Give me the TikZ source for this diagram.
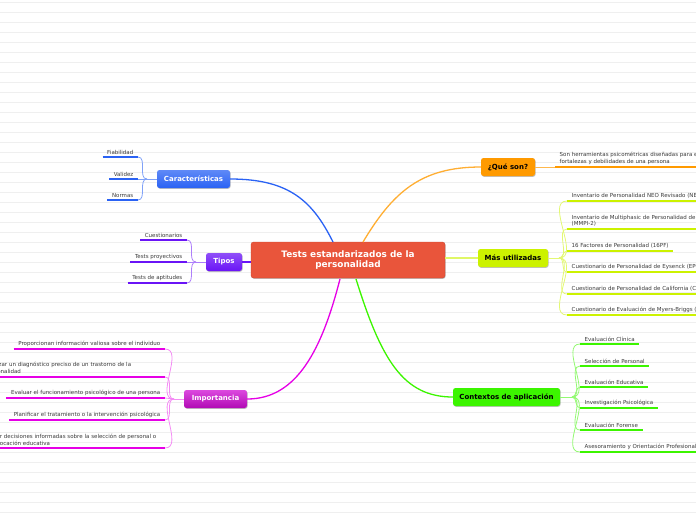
\documentclass[tikz,border=0pt]{standalone}
\usepackage{fontspec}
\setmainfont{DejaVu Sans}
\usetikzlibrary{shadows}
\definecolor{rootred}{HTML}{E9553B}
\definecolor{carablue}{HTML}{2A62F4}
\definecolor{tipviolet}{HTML}{6A14F6}
\definecolor{impmag}{HTML}{D00CD4}
\definecolor{impline}{HTML}{E600E6}
\definecolor{queorange}{HTML}{FF9A00}
\definecolor{maslime}{HTML}{CCF200}
\definecolor{ctxgreen}{HTML}{3CF500}
\definecolor{leafgray}{HTML}{3A3A3A}
\definecolor{ruleline}{HTML}{EFEFEF}

\begin{document}
\begin{tikzpicture}[x=1pt, y=-1pt,
  topic/.style={rounded corners=2.5pt, minimum height=18pt, inner xsep=0pt, align=center,
    font=\fontsize{7}{8}\selectfont\bfseries,
    drop shadow={shadow xshift=0.6pt, shadow yshift=-0.8pt, opacity=0.25, fill=black}},
  leaf/.style={inner xsep=4.5pt, inner ysep=2.2pt, align=left, text=leafgray,
    font=\fontsize{5.5}{6.6}\selectfont},
  wideleaf/.style={leaf, text width=175pt},
  uline/.style={line width=2.6pt},
  conn/.style={line width=1.3pt},
  twig/.style={line width=0.8pt}
]
\useasboundingbox (0,0) rectangle (696,520);
\foreach \y in {2,12,...,512} \draw[ruleline, line width=0.6pt] (0,\y) -- (696,\y);

% central topic
\node[topic, minimum width=194pt, minimum height=36pt, fill=rootred, draw=rootred!85!black, line width=0.3pt,
  text=white, font=\fontsize{8.9}{10.5}\selectfont\bfseries] (root) at (348,260) {Tests estandarizados de la\\personalidad};

% main topics
\node[topic, minimum width=73pt, top color=carablue!75!white, bottom color=carablue, text=white] (cara) at (193.5,179) {Características};
\node[topic, minimum width=36pt, top color=tipviolet!75!white, bottom color=tipviolet, text=white] (tipos) at (224,262) {Tipos};
\node[topic, minimum width=63pt, top color=impmag!75!white, bottom color=impmag!85!black, text=white] (impo) at (215.5,399) {Importancia};
\node[topic, minimum width=54pt, fill=queorange, text=black] (queson) at (508,167) {¿Qué son?};
\node[topic, minimum width=70pt, fill=maslime, text=black] (masut) at (513,258) {Más utilizadas};
\node[topic, minimum width=107pt, fill=ctxgreen, text=black] (contx) at (506.5,397) {Contextos de aplicación};

% connectors from the centre
\draw[conn, carablue] (333,242) .. controls +(-20,-40) and +(60,0) .. (cara.east);
\draw[conn, tipviolet] (root.west |- tipos) -- (tipos.east);
\draw[conn, impline] (340,279) .. controls +(-18,70) and +(50,0) .. (impo.east);
\draw[conn, queorange!80!white] (363,242) .. controls +(30,-50) and +(-60,0) .. (queson.west);
\draw[conn, maslime!60!white] (root.east |- masut) -- (masut.west);
\draw[conn, ctxgreen] (356,279) .. controls +(25,80) and +(-50,0) .. (contx.west);

% Caracteristicas
\coordinate (cara-h) at (147,179);
\node[leaf, anchor=south east] (fia) at (138,157) {Fiabilidad};
\node[leaf, anchor=south east] (val) at (138,179) {Validez};
\node[leaf, anchor=south east] (nor) at (138,200) {Normas};
\draw[twig, carablue!60!white] (cara.west) -- (cara-h);
\foreach \n in {fia,val,nor} {
  \draw[twig, carablue!60!white] (cara-h) to[out=180, in=0] (\n.south east);
  \draw[uline, carablue] (\n.south west) -- (\n.south east);
}

% Tipos
\coordinate (tipos-h) at (196,262);
\node[leaf, anchor=south east] (cues) at (187,240) {Cuestionarios};
\node[leaf, anchor=south east] (proy) at (187,262) {Tests proyectivos};
\node[leaf, anchor=south east] (apti) at (187,283) {Tests de aptitudes};
\draw[twig, tipviolet!55!white] (tipos.west) -- (tipos-h);
\foreach \n in {cues,proy,apti} {
  \draw[twig, tipviolet!55!white] (tipos-h) to[out=180, in=0] (\n.south east);
  \draw[uline, tipviolet] (\n.south west) -- (\n.south east);
}

% Importancia
\coordinate (impo-h) at (174,399);
\node[leaf, anchor=south east] (imp1) at (165,349) {Proporcionan información valiosa sobre el individuo};
\node[wideleaf, anchor=south east] (imp2) at (165,377) {Realizar un diagnóstico preciso de un trastorno de la\\personalidad};
\node[leaf, anchor=south east] (imp3) at (165,398) {Evaluar el funcionamiento psicológico de una persona};
\node[leaf, anchor=south east] (imp4) at (165,420) {Planificar el tratamiento o la intervención psicológica};
\node[wideleaf, anchor=south east] (imp5) at (165,448) {Tomar decisiones informadas sobre la selección de personal o\\la colocación educativa};
\draw[twig, impline!45!white] (impo.west) -- (impo-h);
\foreach \n in {imp1,imp2,imp3,imp4,imp5} {
  \draw[twig, impline!45!white] (impo-h) to[out=180, in=0] (\n.south east);
  \draw[uline, impline] (\n.south west) -- (\n.south east);
}

% Que son
\node[leaf, anchor=south west] (def) at (555,167) {Son herramientas psicométricas diseñadas para evaluar los rasgos,\\fortalezas y debilidades de una persona};
\draw[twig, queorange!70!white] (queson.east) -- (def.south west);
\draw[uline, queorange] (def.south west) -- (def.south east);

% Mas utilizadas
\coordinate (masut-h) at (559,258);
\node[leaf, anchor=south west] (neo) at (567,201) {Inventario de Personalidad NEO Revisado (NEO-PI-R)};
\node[leaf, anchor=south west] (mmpi) at (567,229) {Inventario de Multiphasic de Personalidad de Minnesota\\(MMPI-2)};
\node[leaf, anchor=south west] (pf16) at (567,251) {16 Factores de Personalidad (16PF)};
\node[leaf, anchor=south west] (epq) at (567,272) {Cuestionario de Personalidad de Eysenck (EPQ)};
\node[leaf, anchor=south west] (cpi) at (567,294) {Cuestionario de Personalidad de California (CPI)};
\node[leaf, anchor=south west] (mbti) at (567,315) {Cuestionario de Evaluación de Myers-Briggs (MBTI)};
\draw[twig, maslime!55!white] (masut.east) -- (masut-h);
\foreach \n in {neo,mmpi,pf16,epq,cpi,mbti} {
  \draw[twig, maslime!55!white] (masut-h) to[out=0, in=180] (\n.south west);
  \draw[uline, maslime] (\n.south west) -- (\n.south east);
}

% Contextos de aplicacion
\coordinate (contx-h) at (572,397);
\node[leaf, anchor=south west] (clin) at (580,344) {Evaluación Clínica};
\node[leaf, anchor=south west] (pers) at (580,366) {Selección de Personal};
\node[leaf, anchor=south west] (educ) at (580,387) {Evaluación Educativa};
\node[leaf, anchor=south west] (inve) at (580,408) {Investigación Psicológica};
\node[leaf, anchor=south west] (fore) at (580,430) {Evaluación Forense};
\node[leaf, anchor=south west] (ases) at (580,452) {Asesoramiento y Orientación Profesional};
\draw[twig, ctxgreen!55!white] (contx.east) -- (contx-h);
\foreach \n in {clin,pers,educ,inve,fore,ases} {
  \draw[twig, ctxgreen!55!white] (contx-h) to[out=0, in=180] (\n.south west);
  \draw[uline, ctxgreen] (\n.south west) -- (\n.south east);
}
\end{tikzpicture}
\end{document}
